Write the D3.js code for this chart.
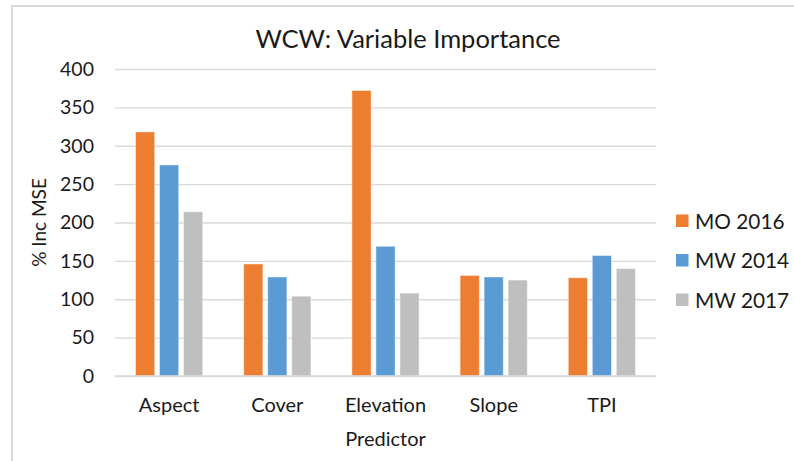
<!DOCTYPE html>
<html>
<head>
<meta charset="utf-8">
<script src="https://cdn.jsdelivr.net/npm/d3@7/dist/d3.min.js"></script>
<style>
  html, body { margin: 0; padding: 0; background: #fff; }
  svg { display: block; }
  text { font-family: Lato, "Open Sans", sans-serif; fill: #1a1a1a; }
</style>
</head>
<body>
<svg id="chart" width="794" height="461"></svg>
<script>
// Predictors on the x axis
const categories = ["Aspect", "Cover", "Elevation", "Slope", "TPI"];
// Series names, in legend order
const seriesNames = ["MO 2016", "MW 2014", "MW 2017"];
// % Inc MSE per predictor, one array per series
const mo2016 = [318, 146, 372, 131, 128];
const mw2014 = [275, 129, 169, 129, 157];
const mw2017 = [214, 104, 108, 125, 140];
const yTicks = [0, 50, 100, 150, 200, 250, 300, 350, 400];
const colors = ["#ED7D31", "#5B9BD5", "#BFBFBF"];

const seriesValues = [mo2016, mw2014, mw2017];
const rows = categories.map((c, i) => ({
  category: c,
  values: seriesNames.map((s, k) => ({ series: s, value: seriesValues[k][i] }))
}));

const svg = d3.select("#chart");
const plot = { left: 115, right: 656, top: 69, bottom: 376 };

// Chart frame edges
svg.append("line").attr("x1", 12).attr("x2", 12).attr("y1", 6).attr("y2", 461)
  .attr("stroke", "#d9d9d9").attr("stroke-width", 2);
svg.append("line").attr("x1", 11).attr("x2", 794).attr("y1", 6).attr("y2", 6)
  .attr("stroke", "#d9d9d9").attr("stroke-width", 2);

const x = d3.scaleBand().domain(categories).range([plot.left, plot.right]).padding(0);
const y = d3.scaleLinear().domain([0, 400]).range([plot.bottom, plot.top]);

// Bars inside one category slot: width 19.2 with 4.8 gaps
const barW = 19.2, barStep = 24;
const inner = d3.scaleOrdinal().domain(seriesNames)
  .range(seriesNames.map((s, k) => k * barStep));
const groupW = barStep * (seriesNames.length - 1) + barW;
const color = d3.scaleOrdinal().domain(seriesNames).range(colors);

// Horizontal gridlines
const yAxis = d3.axisLeft(y).tickValues(yTicks).tickSize(-(plot.right - plot.left)).tickPadding(21);
const gy = svg.append("g").attr("transform", `translate(${plot.left},0)`).call(yAxis);
gy.select(".domain").remove();
gy.selectAll(".tick line").attr("stroke", "#d9d9d9").attr("stroke-width", 1.3);
gy.selectAll(".tick text").attr("font-size", 19.5).style("font-family", "Lato, sans-serif").attr("fill", "#1a1a1a");

// Bars
const groups = svg.append("g").selectAll("g").data(rows).join("g")
  .attr("transform", d => `translate(${x(d.category) + (x.bandwidth() - groupW) / 2},0)`);
groups.selectAll("rect").data(d => d.values).join("rect")
  .attr("x", d => inner(d.series))
  .attr("y", d => y(d.value))
  .attr("width", barW)
  .attr("height", d => y(0) - y(d.value))
  .attr("fill", d => color(d.series))
  .attr("stroke", "rgba(255,255,255,0.45)")
  .attr("stroke-width", 1);

// Baseline
svg.append("line").attr("x1", plot.left).attr("x2", plot.right)
  .attr("y1", y(0)).attr("y2", y(0)).attr("stroke", "#d9d9d9").attr("stroke-width", 1.3);

// Category labels
const xAxis = d3.axisBottom(x).tickSize(0).tickPadding(22);
const gx = svg.append("g").attr("transform", `translate(0,${plot.bottom})`).call(xAxis);
gx.select(".domain").remove();
gx.selectAll(".tick text").attr("font-size", 20).style("font-family", "Lato, sans-serif").attr("fill", "#1a1a1a");

// Title and axis titles
svg.append("text").attr("x", 408).attr("y", 48).attr("text-anchor", "middle")
  .attr("font-size", 25.5).text("WCW: Variable Importance");
svg.append("text").attr("x", (plot.left + plot.right) / 2).attr("y", 446).attr("text-anchor", "middle")
  .attr("font-size", 20).text("Predictor");
svg.append("text").attr("transform", `translate(46,${(plot.top + plot.bottom) / 2}) rotate(-90)`)
  .attr("text-anchor", "middle").attr("font-size", 19).text("% Inc MSE");

// Legend
const legend = svg.append("g").selectAll("g").data(seriesNames).join("g")
  .attr("transform", (d, i) => `translate(676,${221 + i * 39.5})`);
legend.append("rect").attr("x", 0).attr("y", -6.5).attr("width", 12.5).attr("height", 12.5)
  .attr("fill", d => color(d));
legend.append("text").attr("x", 19).attr("y", 7.5).attr("font-size", 20.8).text(d => d);
</script>
</body>
</html>
